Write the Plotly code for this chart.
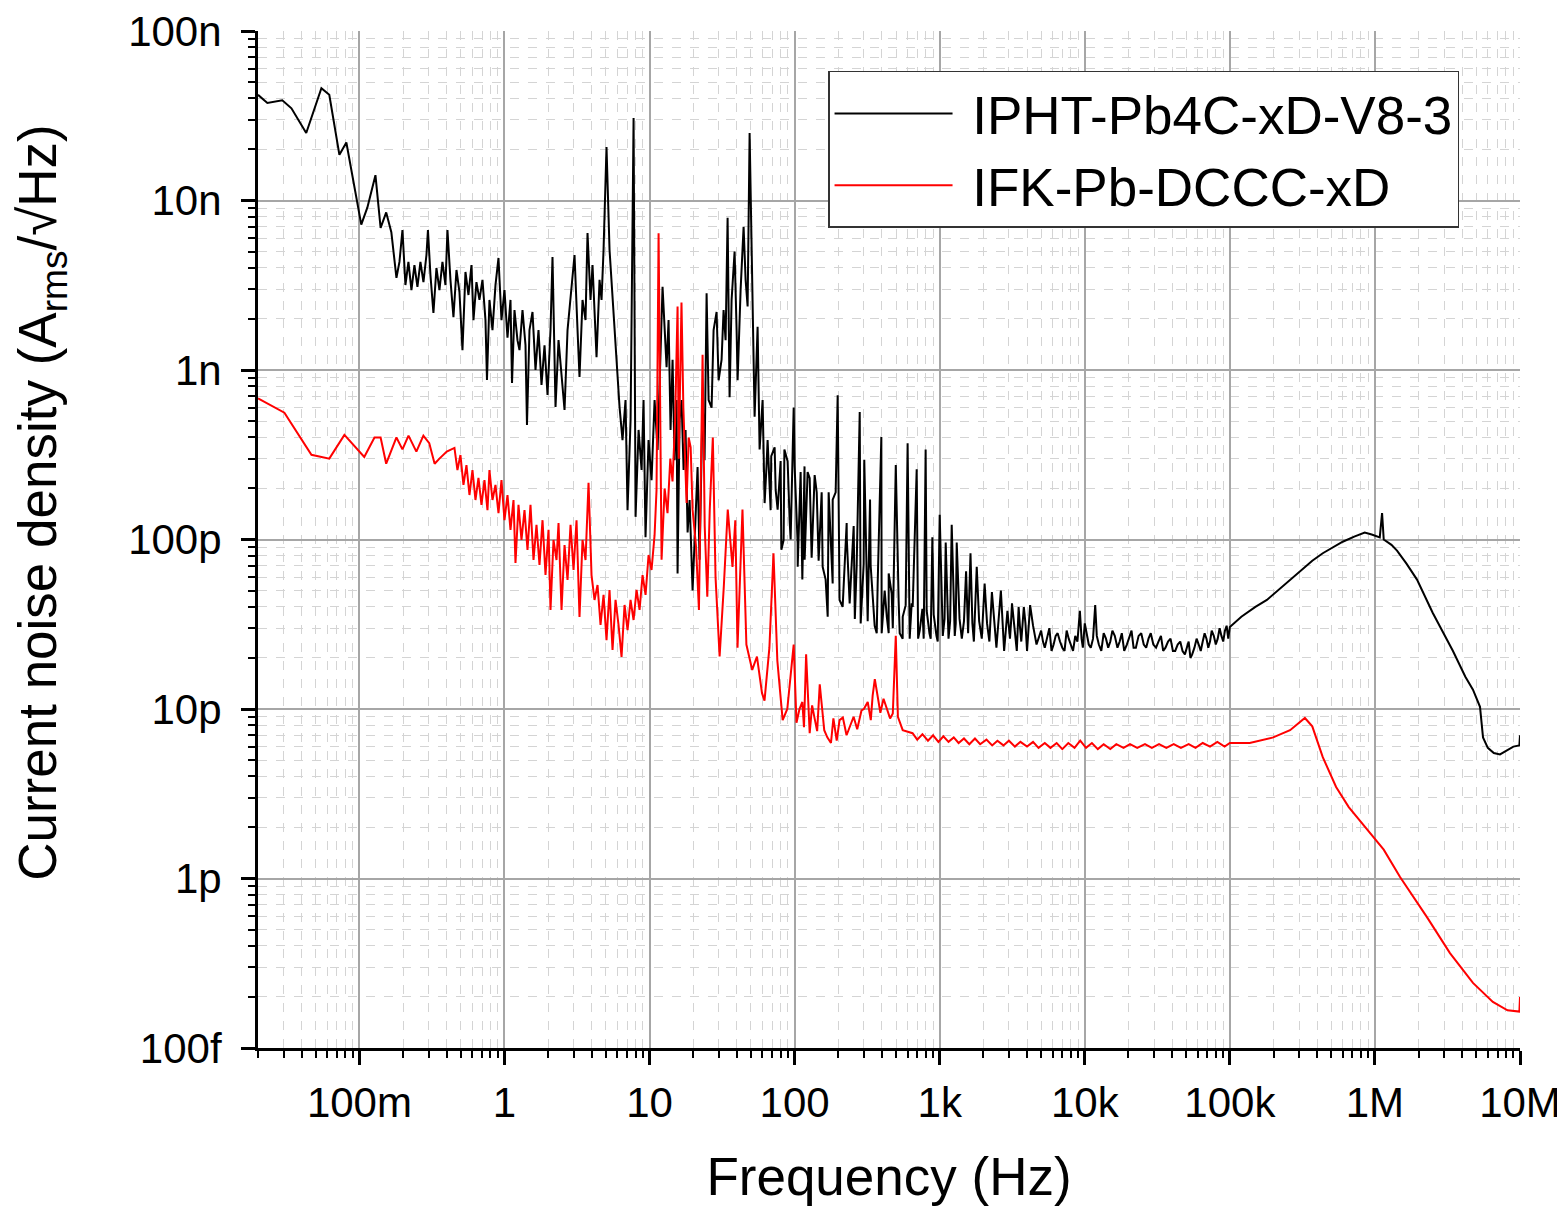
import plotly.graph_objects as go

# ---- data: (frequency Hz, noise A/sqrt(Hz)) ----
# IPHT-Pb4C-xD-V8-3 (black)
black_low = [(0.02, 4.2e-8), (0.0232, 3.76e-8), (0.0294, 3.9e-8), (0.034, 3.5e-8), (0.043, 2.5e-8),
             (0.0547, 4.6e-8), (0.062, 4.2e-8), (0.0728, 1.86e-8), (0.0813, 2.2e-8), (0.103, 7.2e-9),
             (0.1135, 9.1e-9), (0.129, 1.41e-8), (0.14, 6.9e-9), (0.153, 8.5e-9), (0.166, 6.5e-9),
             (0.18, 3.5e-9)]
black_1hz = [(0.1888, 4.34e-9), (0.198, 6.70e-9), (0.2076, 3.17e-9), (0.2177, 4.34e-9), (0.2284, 2.96e-9),
             (0.2395, 4.16e-9), (0.2512, 3.09e-9), (0.2634, 4.34e-9), (0.2763, 3.30e-9), (0.2898, 4.77e-9),
             (0.2968, 6.70e-9), (0.3088, 3.63e-9), (0.3238, 2.17e-9), (0.3396, 4.0e-9), (0.3562, 2.96e-9),
             (0.3736, 4.34e-9), (0.3918, 3.17e-9), (0.4045, 6.70e-9), (0.4242, 3.40e-9), (0.4449, 2.05e-9),
             (0.4667, 3.89e-9), (0.4894, 2.88e-9), (0.5133, 1.31e-9), (0.5383, 3.79e-9), (0.5646, 2.77e-9),
             (0.5922, 4.16e-9), (0.6113, 1.97e-9), (0.6409, 3.30e-9), (0.6723, 2.59e-9), (0.7051, 3.40e-9),
             (0.7395, 1.97e-9), (0.7573, 8.73e-10), (0.7878, 2.59e-9), (0.8264, 1.72e-9), (0.8669, 3.17e-9),
             (0.9092, 4.58e-9), (0.9535, 1.97e-9), (1.0, 2.96e-9), (1.049, 1.55e-9), (1.1, 2.59e-9),
             (1.127, 8.38e-10), (1.172, 2.26e-9), (1.229, 1.50e-9), (1.269, 1.31e-9), (1.331, 2.26e-9),
             (1.396, 1.40e-9), (1.429, 4.74e-10), (1.487, 1.72e-9), (1.560, 2.20e-9), (1.636, 1.0e-9),
             (1.716, 1.72e-9), (1.800, 8.16e-10), (1.888, 1.40e-9), (1.980, 7.12e-10), (2.076, 1.72e-9),
             (2.143, 4.64e-9), (2.248, 6.05e-10), (2.358, 1.50e-9), (2.473, 9.34e-10), (2.594, 5.81e-10),
             (2.720, 1.72e-9), (2.853, 2.59e-9), (2.944, 3.40e-9), (3.040, 4.77e-9), (3.188, 1.72e-9),
             (3.290, 9.09e-10), (3.451, 2.59e-9), (3.619, 1.97e-9), (3.736, 6.43e-9), (3.918, 2.59e-9),
             (4.045, 4.16e-9), (4.175, 1.97e-9), (4.310, 1.19e-9), (4.521, 3.40e-9), (4.667, 2.59e-9),
             (4.818, 5.10e-9), (5.05, 2.07e-8), (5.30, 5.10e-9), (5.56, 2.59e-9), (5.92, 1.15e-9),
             (6.21, 6.05e-10)]
black_10hz = [(6.51, 3.86e-10), (6.83, 6.65e-10), (7.05, 1.49e-10), (7.40, 5.07e-10), (7.76, 3.07e-8),
              (8.01, 1.36e-10), (8.40, 4.43e-10), (8.81, 2.57e-10), (9.09, 6.65e-10), (9.38, 1.03e-10),
              (9.84, 3.86e-10), (10.32, 2.24e-10), (10.83, 6.65e-10), (11.36, 3.37e-10), (12.29, 3.1e-9),
              (12.69, 1.72e-9), (13.10, 1.04e-9), (13.52, 1.97e-9), (13.96, 4.43e-10), (14.41, 1.15e-9),
              (14.87, 2.94e-10), (15.36, 6.65e-10), (15.60, 6.3e-11), (16.10, 5.07e-10), (16.62, 6.65e-10),
              (17.16, 2.57e-10), (17.71, 4.43e-10), (18.29, 1.1e-10), (18.88, 1.71e-10), (19.80, 5.0e-11),
              (20.43, 1.0e-10), (21.43, 2.68e-10), (22.12, 7.6e-11), (23.21, 6.65e-10), (23.95, 2.94e-10),
              (24.73, 2.84e-9), (25.53, 6.65e-10), (26.77, 6.0e-10), (27.63, 1.72e-9), (28.98, 2.2e-9),
              (29.92, 8.7e-10), (31.37, 1.15e-9), (32.38, 2.26e-9), (33.43, 1.5e-9), (34.51, 7.9e-9),
              (35.62, 6.9e-10), (36.77, 2.59e-9), (38.57, 5.0e-9), (39.81, 1.72e-9), (40.45, 8.7e-10),
              (42.42, 2.96e-9), (44.49, 7.0e-9), (45.93, 3.4e-9), (47.41, 2.37e-9), (48.94, 2.5e-8),
              (51.32, 2.2e-9), (52.98, 5.3e-10), (55.56, 1.8e-9), (57.36, 3.4e-10), (60.15, 6.65e-10),
              (62.11, 1.64e-10)]
black_1khz = [(64, 2.7e-10), (69, 3.1e-10), (74, 1.96e-10), (81, 8.7e-11), (85, 3.4e-10),
              (92.5, 1.26e-10), (98.5, 6.0e-10), (105, 6.9e-11), (113, 5.8e-11), (117, 2.7e-10),
              (127, 2.3e-10), (142, 1.9e-10), (156, 6.9e-11), (169, 3.5e-11), (183, 1.72e-10),
              (198, 7.1e-10), (204, 4.4e-11), (229, 1.0e-10), (260, 3.4e-11), (281, 5.65e-10),
              (302, 2.95e-10), (316, 5.8e-11), (331, 1.72e-10), (368, 2.8e-11), (396, 4.03e-10),
              (432, 3.5e-11), (445, 6.3e-11), (475, 3.0e-11), (498, 2.75e-10), (530, 2.8e-11),
              (556, 3.5e-11), (601, 3.7e-10), (641, 4.2e-11), (694, 2.6e-10), (728, 2.9e-11),
              (800, 3.4e-10), (850, 2.8e-11), (890, 1.03e-10), (950, 2.7e-11), (1000, 1.4e-10),
              (1050, 2.7e-11), (1100, 9.6e-11), (1150, 2.6e-11), (1210, 1.22e-10), (1270, 2.7e-11),
              (1310, 9.6e-11), (1420, 2.6e-11), (1520, 6.5e-11), (1570, 2.8e-11), (1630, 8.3e-11),
              (1720, 2.5e-11), (1800, 6.9e-11), (1950, 2.6e-11), (2040, 5.5e-11), (2200, 2.5e-11),
              (2290, 4.9e-11), (2460, 2.3e-11), (2640, 5.0e-11), (2780, 2.2e-11), (2930, 3.8e-11),
              (3050, 2.6e-11), (3150, 4.2e-11), (3400, 2.2e-11), (3500, 4.0e-11), (3650, 2.5e-11),
              (3800, 4.0e-11), (4000, 2.2e-11), (4200, 4.1e-11), (4650, 2.4e-11)]
black_1khz_band = [(65.13, 3.86e-10), (68.32, 1.49e-10), (72.8, 3.5e-10), (76.35, 1.5e-10), (80.07, 2.9e-10),
                   (83.97, 9.9e-11), (89.47, 2.9e-10), (93.85, 1.0e-10), (100, 2.7e-10), (104.9, 9.5e-11),
                   (110, 2.5e-10), (117.2, 7.6e-11), (122.9, 2.5e-10), (131, 7.8e-11), (137.4, 2.4e-10),
                   (146.4, 7.5e-11), (153.6, 1.9e-10), (163.6, 5.8e-11), (171.6, 1.9e-10), (182.9, 5.5e-11),
                   (191.8, 1.9e-10), (214.3, 4.0e-11), (228.4, 1.25e-10), (239.5, 4.2e-11), (255.3, 1.2e-10),
                   (267.7, 7.0e-11), (285.3, 3.2e-11), (299.2, 7.2e-11), (318.8, 3.3e-11), (334.3, 7.0e-11),
                   (356.3, 3.1e-11), (373.6, 5.5e-11), (398.1, 2.8e-11), (417.5, 5.0e-11), (444.9, 2.8e-11),
                   (466.6, 4.8e-11), (521.4, 4.3e-11), (555.6, 2.6e-11), (582.7, 4.1e-11), (621, 2.6e-11),
                   (651.2, 4.0e-11), (710, 2.6e-11), (760, 3.9e-11), (775.6, 2.6e-11), (813.4, 3.8e-11),
                   (866.7, 2.6e-11), (909, 3.6e-11), (968.7, 2.5e-11), (1080, 3.4e-11), (1180, 3.3e-11),
                   (1290, 3.2e-11), (1370, 3.4e-11), (1470, 3.3e-11), (1680, 3.2e-11), (1870, 3.3e-11),
                   (2120, 3.2e-11), (2380, 3.2e-11), (2710, 3.1e-11), (3100, 3.2e-11), (3570, 3.1e-11),
                   (3900, 3.2e-11), (4400, 3.1e-11)]
black_high = [(5000, 2.9e-11), (5300, 2.3e-11), (5700, 3.0e-11), (6100, 2.4e-11), (6500, 2.8e-11),
              (7000, 2.3e-11), (7500, 2.9e-11), (8000, 2.4e-11), (8600, 2.7e-11), (9250, 3.8e-11),
              (9700, 2.3e-11), (10300, 2.8e-11), (11000, 2.3e-11), (11800, 4.1e-11), (12500, 2.4e-11),
              (13500, 2.8e-11), (14500, 2.3e-11), (15500, 2.9e-11), (16800, 2.3e-11), (18000, 2.8e-11),
              (19500, 2.4e-11), (21000, 2.9e-11), (22500, 2.3e-11), (24500, 2.8e-11), (26500, 2.3e-11),
              (28500, 2.8e-11), (31000, 2.3e-11), (33500, 2.7e-11), (36000, 2.3e-11), (39000, 2.6e-11),
              (42000, 2.2e-11), (45500, 2.5e-11), (49000, 2.1e-11), (52000, 2.5e-11), (55000, 2.1e-11),
              (59000, 2.6e-11), (63000, 2.2e-11), (67000, 2.8e-11), (71000, 2.3e-11), (75000, 2.9e-11),
              (80000, 2.4e-11), (85000, 3.0e-11), (90000, 2.5e-11), (95000, 3.1e-11), (100000, 3.05e-11),
              (1.2e5, 3.5e-11), (1.5e5, 4.0e-11), (1.8e5, 4.4e-11), (2.3e5, 5.3e-11), (3.04e5, 6.5e-11),
              (3.7e5, 7.5e-11), (4.37e5, 8.3e-11), (5.2e5, 9.1e-11), (6.0e5, 9.7e-11), (7.2e5, 1.04e-10),
              (8.5e5, 1.1e-10), (9.5e5, 1.07e-10), (1.08e6, 1.03e-10), (1.12e6, 1.43e-10), (1.15e6, 1.0e-10),
              (1.3e6, 9.3e-11), (1.42e6, 8.6e-11), (1.65e6, 7.2e-11), (1.95e6, 5.8e-11), (2.5e6, 3.7e-11),
              (3.45e6, 2.2e-11), (4.2e6, 1.55e-11), (4.74e6, 1.3e-11), (5.3e6, 1.03e-11), (5.56e6, 6.8e-12),
              (6.0e6, 5.9e-12), (6.6e6, 5.5e-12), (7.28e6, 5.4e-12), (8.2e6, 5.7e-12), (9.0e6, 6.0e-12),
              (9.9e6, 6.1e-12), (1.0e7, 7.0e-12)]
black_high_band = [(5150, 2.5e-11), (5500, 2.7e-11), (5900, 2.2e-11), (6300, 2.7e-11), (6750, 2.5e-11),
                   (7250, 2.2e-11), (7750, 2.6e-11), (8300, 2.2e-11), (8900, 2.5e-11), (9500, 2.6e-11),
                   (10000, 3.2e-11), (10650, 2.4e-11), (11400, 2.6e-11), (12100, 2.7e-11), (13000, 2.2e-11),
                   (14000, 2.6e-11), (15000, 2.5e-11), (16100, 2.7e-11), (17400, 2.5e-11), (18700, 2.2e-11),
                   (20200, 2.6e-11), (21700, 2.3e-11), (23500, 2.7e-11), (25500, 2.4e-11), (27500, 2.6e-11),
                   (29700, 2.4e-11), (32200, 2.5e-11), (34700, 2.2e-11), (37500, 2.5e-11), (40500, 2.2e-11),
                   (43700, 2.4e-11), (47200, 2.2e-11), (50500, 2.3e-11), (53500, 2.0e-11), (57000, 2.3e-11),
                   (61000, 2.4e-11), (65000, 2.5e-11), (69000, 2.6e-11), (73000, 2.5e-11), (77500, 2.7e-11),
                   (82500, 2.6e-11), (87500, 2.7e-11), (92500, 2.9e-11), (97500, 2.6e-11)]

# IFK-Pb-DCCC-xD (red)
red_low = [(0.02, 6.8e-10), (0.0304, 5.6e-10), (0.0467, 3.16e-10), (0.062, 3.0e-10), (0.0788, 4.14e-10),
           (0.108, 3.07e-10), (0.127, 4.0e-10), (0.14, 4.0e-10), (0.153, 2.8e-10), (0.18, 4.0e-10),
           (0.198, 3.4e-10), (0.218, 4.1e-10), (0.247, 3.3e-10), (0.276, 4.1e-10), (0.303, 3.7e-10),
           (0.33, 2.8e-10), (0.356, 3.0e-10), (0.4, 3.3e-10)]
red_1hz = [(0.452, 3.47e-10), (0.474, 2.57e-10), (0.4971, 3.15e-10), (0.5215, 2.10e-10), (0.5469, 2.75e-10),
           (0.5736, 1.83e-10), (0.6016, 2.57e-10), (0.631, 1.71e-10), (0.6617, 2.31e-10), (0.694, 1.60e-10),
           (0.7278, 2.24e-10), (0.7634, 1.49e-10), (0.7878, 2.57e-10), (0.8264, 1.71e-10), (0.8669, 2.10e-10),
           (0.9092, 1.43e-10), (0.9535, 2.24e-10), (1.0, 1.30e-10), (1.049, 1.83e-10), (1.1, 1.14e-10),
           (1.154, 1.71e-10), (1.191, 7.27e-11), (1.249, 1.60e-10), (1.31, 9.93e-11), (1.374, 1.49e-10),
           (1.441, 8.67e-11), (1.511, 1.60e-10), (1.585, 7.57e-11), (1.662, 1.22e-10), (1.743, 7.07e-11),
           (1.829, 1.30e-10), (1.918, 6.17e-11), (2.012, 1.14e-10), (2.076, 3.84e-11), (2.177, 9.93e-11),
           (2.284, 7.57e-11), (2.358, 1.25e-10), (2.473, 3.84e-11), (2.594, 9.28e-11), (2.72, 5.77e-11),
           (2.853, 1.22e-10), (2.992, 6.61e-11), (3.138, 1.30e-10), (3.29, 3.49e-11), (3.451, 9.93e-11),
           (3.619, 7.57e-11), (3.796, 2.16e-10), (3.981, 6.17e-11), (4.175, 4.40e-11), (4.379, 5.39e-11),
           (4.593, 3.13e-11), (4.818, 4.71e-11), (5.05, 2.55e-11), (5.297, 5.04e-11), (5.556, 2.23e-11),
           (5.828, 4.40e-11), (6.112, 3.13e-11), (6.41, 2.03e-11), (6.724, 4.11e-11), (7.052, 2.92e-11),
           (7.396, 4.40e-11), (7.758, 3.35e-11), (8.136, 5.04e-11), (8.532, 3.84e-11), (8.949, 6.17e-11),
           (9.385, 4.71e-11), (9.843, 8.10e-11), (10.32, 6.61e-11), (10.83, 1.06e-10), (11.17, 1.96e-10),
           (11.54, 6.4e-9), (12.1, 7.6e-11)]
red_100hz = [(12.7, 2.0e-10), (13.3, 1.43e-10), (13.9, 3.0e-10), (14.4, 2.2e-10), (15.0, 5.0e-10),
             (15.6, 2.37e-9), (15.9, 3.0e-10), (16.3, 8.0e-10), (16.6, 2.5e-9), (17.1, 6.0e-10),
             (17.5, 3.5e-10), (18.0, 1.64e-10), (18.6, 4.0e-10), (19.2, 3.5e-10), (19.8, 1.5e-10),
             (20.9, 9.1e-11), (21.9, 3.84e-11), (22.5, 1.5e-10), (23.2, 1.23e-9), (24.0, 1.2e-10),
             (25.0, 4.6e-11), (26.0, 1.5e-10), (27.3, 4.0e-10), (28.5, 6.0e-11), (30.4, 2.04e-11),
             (32.5, 5.3e-11), (34.6, 1.5e-10), (37.3, 6.9e-11), (39.0, 1.3e-10), (40.4, 2.3e-11),
             (43.7, 1.5e-10), (46.5, 2.4e-11), (51.0, 1.7e-11), (55.0, 2.04e-11), (59.6, 1.24e-11),
             (62.0, 1.12e-11), (67.0, 2.3e-11), (71.5, 8.3e-11), (76.0, 1.93e-11), (82.7, 8.6e-12),
             (89.0, 1.0e-11), (98.5, 2.4e-11), (103, 8.3e-12), (108, 1.0e-11), (113, 1.1e-11),
             (116, 7.8e-12), (120, 2.1e-11), (127, 7.2e-12), (132, 1.05e-11), (137, 8.9e-12),
             (143, 7.4e-12), (149, 1.4e-11), (155, 9.8e-12), (160, 7.5e-12), (168, 6.8e-12),
             (178, 6.3e-12), (185, 8.8e-12), (195, 6.5e-12), (204, 8.6e-12), (215, 8.9e-12),
             (228, 7.0e-12), (240, 7.9e-12), (255, 9.0e-12), (270, 7.6e-12), (289, 9.8e-12),
             (300, 1.0e-11), (319, 1.1e-11), (335, 8.6e-12), (345, 1.2e-11), (357, 1.5e-11),
             (375, 1.12e-11), (390, 9.5e-12), (410, 1.15e-11), (432, 1.0e-11), (455, 8.8e-12),
             (475, 9.4e-12), (498, 2.7e-11), (515, 9.0e-12), (556, 7.5e-12), (650, 7.2e-12)]
red_flat = [(700, 6.6e-12), (760, 7.1e-12), (830, 6.5e-12), (900, 7.0e-12), (980, 6.4e-12),
            (1060, 6.9e-12), (1150, 6.4e-12), (1250, 6.8e-12), (1350, 6.3e-12), (1470, 6.7e-12),
            (1600, 6.2e-12), (1750, 6.7e-12), (1900, 6.2e-12), (2100, 6.6e-12), (2300, 6.1e-12),
            (2500, 6.5e-12), (2750, 6.1e-12), (3000, 6.5e-12), (3300, 6.0e-12), (3600, 6.4e-12),
            (4000, 6.0e-12), (4400, 6.4e-12), (4800, 5.9e-12), (5300, 6.3e-12), (5800, 5.9e-12),
            (6400, 6.3e-12), (7000, 5.8e-12), (7700, 6.3e-12), (8500, 5.9e-12), (9300, 6.5e-12),
            (10200, 5.9e-12), (11200, 6.3e-12), (12300, 5.8e-12), (13500, 6.2e-12), (15000, 5.8e-12),
            (16500, 6.2e-12), (18500, 5.9e-12), (20500, 6.2e-12), (23000, 5.9e-12), (26000, 6.2e-12),
            (29000, 5.9e-12), (32500, 6.2e-12), (36500, 5.9e-12), (41000, 6.2e-12), (46000, 5.9e-12),
            (52000, 6.2e-12), (58000, 5.9e-12), (65000, 6.3e-12), (73000, 6.0e-12), (82000, 6.4e-12),
            (92000, 6.0e-12), (100000, 6.3e-12)]
red_high = [(1.37e5, 6.3e-12), (1.99e5, 6.8e-12), (2.6e5, 7.5e-12), (3.29e5, 8.85e-12), (3.7e5, 7.9e-12),
            (4.37e5, 5.2e-12), (5.4e5, 3.47e-12), (6.6e5, 2.64e-12), (8.9e5, 1.93e-12), (1.15e6, 1.48e-12),
            (1.49e6, 1.02e-12), (2.29e6, 5.9e-13), (3.29e6, 3.63e-13), (4.74e6, 2.42e-13), (6.5e6, 1.87e-13),
            (8.2e6, 1.67e-13), (9.9e6, 1.64e-13), (1.0e7, 2.0e-13)]

series_names = ["IPHT-Pb4C-xD-V8-3", "IFK-Pb-DCCC-xD"]
x_title = "Frequency (Hz)"
y_title = "Current noise density (A<sub>rms</sub>/√Hz)"

black = sorted(black_low + black_1hz + black_10hz + black_1khz + black_1khz_band + black_high + black_high_band)
red = sorted(red_low + red_1hz + red_100hz + red_flat + red_high)

FONT = "Liberation Sans, Arial, sans-serif"

fig = go.Figure()
fig.add_trace(go.Scatter(x=[p[0] for p in black], y=[p[1] for p in black], mode="lines",
                         name="\u00a0" + series_names[0], line=dict(color="black", width=2)))
fig.add_trace(go.Scatter(x=[p[0] for p in red], y=[p[1] for p in red], mode="lines",
                         name="\u00a0" + series_names[1], line=dict(color="#ff0000", width=2)))

axis_common = dict(
    type="log", showline=True, linecolor="black", linewidth=3, automargin=False,
    ticks="outside", ticklen=14, tickwidth=2.5, tickcolor="black",
    showgrid=True, gridcolor="#a6a6a6", gridwidth=1.5,
    zeroline=False, tickformat="~s", dtick=1, ticklabeloverflow="allow",
    tickfont=dict(family=FONT, size=42, color="black"),
    minor=dict(dtick="D1", ticks="outside", ticklen=7, tickwidth=2, tickcolor="black",
               showgrid=True, gridcolor="#d4d4d4", gridwidth=1, griddash="dash"),
)

fig.update_xaxes(**axis_common, range=[-1.699, 7], ticklabelstandoff=2,
                 title=dict(text=x_title, font=dict(family=FONT, size=53, color="black"), standoff=42))
fig.update_yaxes(**axis_common, range=[-13, -7], ticklabelstandoff=11)

# y-axis title (placed slightly above the axis centre as in the reference)
fig.add_annotation(text=y_title, xref="paper", yref="paper", x=-0.1712, y=0.537,
                   xanchor="center", yanchor="middle", textangle=-90, showarrow=False,
                   font=dict(family=FONT, size=53, color="black"))

# the page adds an 8 px body margin, so the figure is sized to fit the 1565x1206 window
fig.update_layout(
    width=1557, height=1198,
    margin=dict(l=250, r=45, t=23, b=158),
    paper_bgcolor="white", plot_bgcolor="white",
    font=dict(family=FONT, color="black"),
    legend=dict(x=0.4517, y=0.9607, xanchor="left", yanchor="top",
                bgcolor="white", bordercolor="#333333", borderwidth=1.5,
                font=dict(family=FONT, size=53, color="black"),
                itemwidth=118, tracegroupgap=0),
    showlegend=True,
)

fig.write_html("out.html")
